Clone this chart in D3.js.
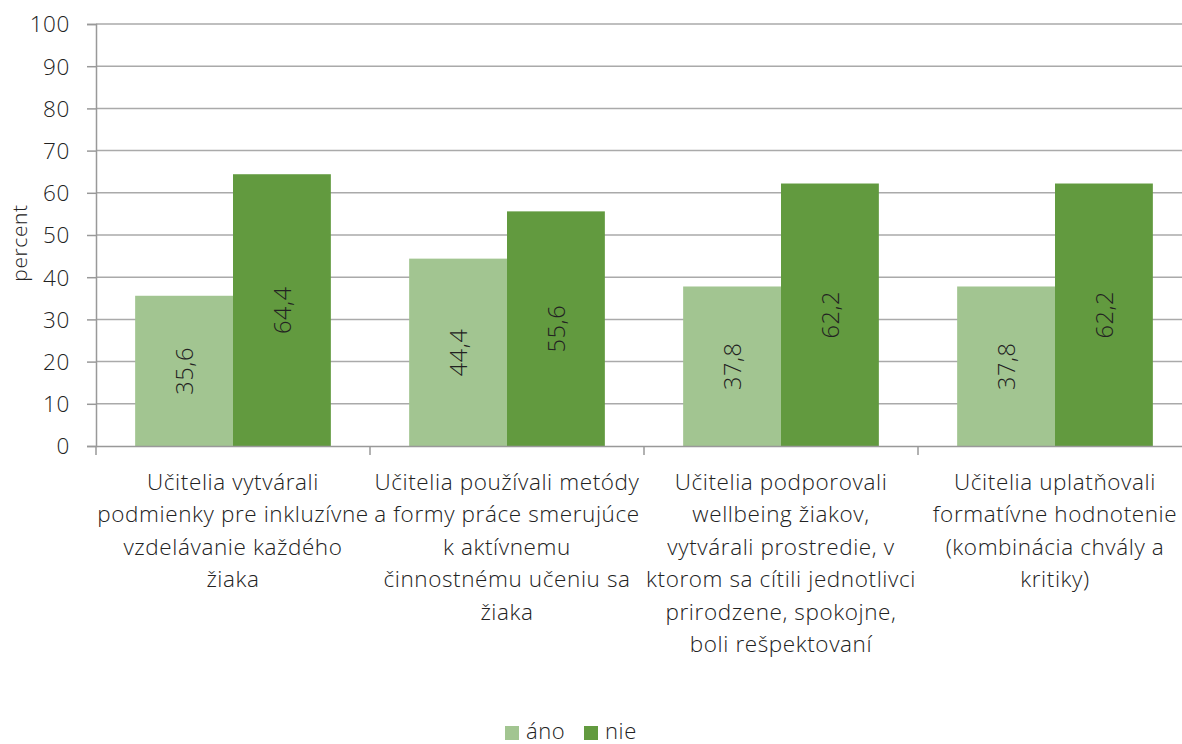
<!DOCTYPE html>
<html><head><meta charset="utf-8">
<script src="https://cdn.jsdelivr.net/npm/d3@7"></script>
<style>
body{margin:0;background:#fff;}
svg text{font-family:"Open Sans","Noto Sans",sans-serif;fill:#222;font-weight:300;letter-spacing:0.6px;}
</style></head>
<body><svg id="c" width="1182" height="744"></svg>
<script>
const categories = [
  ["Učitelia vytvárali","podmienky pre inkluzívne","vzdelávanie každého","žiaka"],
  ["Učitelia používali metódy","a formy práce smerujúce","k aktívnemu","činnostnému učeniu sa","žiaka"],
  ["Učitelia podporovali","wellbeing žiakov,","vytvárali prostredie, v","ktorom sa cítili jednotlivci","prirodzene, spokojne,","boli rešpektovaní"],
  ["Učitelia uplatňovali","formatívne hodnotenie","(kombinácia chvály a","kritiky)"]
];
const seriesNames = ["áno","nie"];
const ano = [35.6, 44.4, 37.8, 37.8];
const nie = [64.4, 55.6, 62.2, 62.2];
const yTicks = [0,10,20,30,40,50,60,70,80,90,100];
const colors = ["#a2c591","#629a3f"];

const svg = d3.select("#c");
const L = 96, R = 1192, T = 24, B = 446;
const idx = d3.range(categories.length);
const x = d3.scaleBand().domain(idx).range([L,R]);
const x1 = d3.scaleBand().domain([0,1]).range([0, x.bandwidth()]).paddingOuter(0.4);
const y = d3.scaleLinear().domain([0,100]).range([B,T]);

// gridlines
svg.append("g").selectAll("line").data(yTicks.filter(d=>d>0)).join("line")
  .attr("x1",L).attr("x2",R).attr("y1",d=>y(d)).attr("y2",d=>y(d))
  .attr("stroke","#aaaaaa").attr("stroke-width",1.5);

// y axis
const ya = svg.append("g").attr("transform",`translate(${L},0)`)
  .call(d3.axisLeft(y).tickValues(yTicks).tickSize(9).tickPadding(17).tickFormat(d3.format("d")));
ya.attr("font-family",null).attr("font-size",null);
ya.select(".domain").attr("stroke","#999").attr("stroke-width",1.5);
ya.selectAll(".tick line").attr("stroke","#999").attr("stroke-width",1.5);
ya.selectAll(".tick text").attr("font-size",22.5).attr("fill","#222").attr("dy","0.35em");

// bars
const series = [ano, nie];
series.forEach((vals,s)=>{
  const g = svg.append("g");
  g.selectAll("rect").data(vals).join("rect")
    .attr("x",(d,i)=>x(i)+x1(s)).attr("width",x1.bandwidth())
    .attr("y",d=>y(d)).attr("height",d=>B-y(d)).attr("fill",colors[s]);
  g.selectAll("text").data(vals).join("text")
    .attr("transform",(d,i)=>`translate(${x(i)+x1(s)+x1.bandwidth()/2},${(y(d)+B)/2}) rotate(-90)`)
    .attr("text-anchor","middle").attr("dominant-baseline","central")
    .attr("font-size",23.5).text(d=>d3.format(".1f")(d).replace(".",","));
});

// x axis
const xa = svg.append("g").attr("transform",`translate(0,${B})`)
  .call(d3.axisBottom(x).tickValues([]).tickSizeOuter(0));
xa.select(".domain").attr("stroke","#999").attr("stroke-width",1.5);
svg.append("g").selectAll("line").data(d3.range(categories.length+1)).join("line")
  .attr("x1",d=>L+d*x.step()).attr("x2",d=>L+d*x.step()).attr("y1",B).attr("y2",B+9)
  .attr("stroke","#999").attr("stroke-width",1.5);

// category labels
svg.append("g").selectAll("text").data(categories).join("text")
  .attr("text-anchor","middle").attr("font-size",22.5)
  .each(function(lines,i){
    d3.select(this).selectAll("tspan").data(lines).join("tspan")
      .attr("x",x(i)+x.bandwidth()/2).attr("y",(d,j)=>490+j*32.4).text(d=>d);
  });

// y title
svg.append("text").attr("transform","translate(27,243) rotate(-90)")
  .attr("text-anchor","middle").attr("font-size",21).text("percent");

// legend
const lg = svg.append("g");
const lx = [505, 584];
seriesNames.forEach((n,i)=>{
  lg.append("rect").attr("x",lx[i]).attr("y",726).attr("width",14).attr("height",14).attr("fill",colors[i]);
  lg.append("text").attr("x",lx[i]+21).attr("y",739).attr("font-size",22).text(n);
});
</script></body></html>
